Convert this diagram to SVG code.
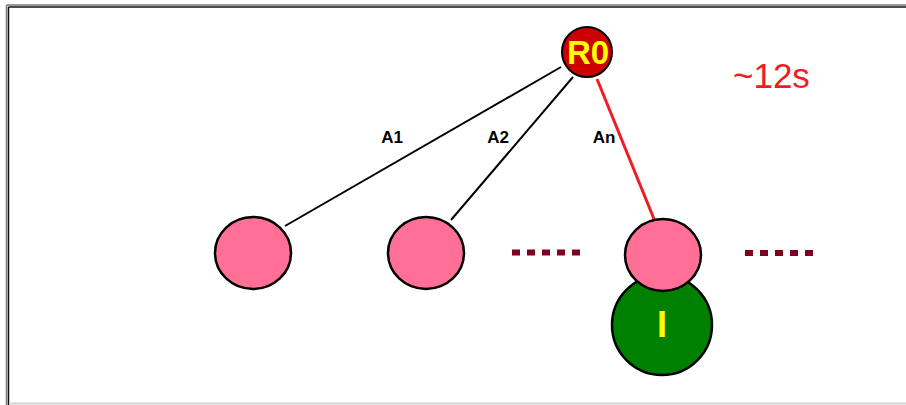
<svg xmlns="http://www.w3.org/2000/svg" width="906" height="405" viewBox="0 0 906 405">
<style>
.lbl{font-family:"Liberation Sans",Arial,sans-serif;font-weight:bold;font-size:17px;fill:#000}
.pink{fill:#FF6F96;stroke:#000;stroke-width:2.5}
.dash{stroke:#800020;stroke-width:6;stroke-dasharray:8 7}
</style>
<rect width="906" height="405" fill="#fff"/>
<g id="frame">
<line x1="6.5" y1="5" x2="906" y2="5" stroke="#777" stroke-width="1.5"/>
<line x1="8.5" y1="7" x2="906" y2="7" stroke="#111" stroke-width="1.5"/>
<line x1="6.5" y1="5" x2="6.5" y2="405" stroke="#777" stroke-width="1.5"/>
<line x1="8.5" y1="7" x2="8.5" y2="405" stroke="#111" stroke-width="1.5"/>
<line x1="9" y1="403.5" x2="906" y2="403.5" stroke="#d4d4d4" stroke-width="2"/>
</g>
<g id="connectors">
<line x1="561" y1="67" x2="285" y2="226" stroke="#000" stroke-width="2"/>
<line x1="573" y1="77" x2="451" y2="220" stroke="#000" stroke-width="2"/>
<line x1="597" y1="79" x2="654" y2="219" stroke="#EE1C24" stroke-width="3"/>
<text class="lbl" x="392" y="143" text-anchor="middle">A1</text>
<text class="lbl" x="498" y="143" text-anchor="middle">A2</text>
<text class="lbl" x="604" y="143" text-anchor="middle">An</text>
</g>
<g id="R0">
<circle cx="587" cy="52" r="25" fill="#CC0000" stroke="#000" stroke-width="2"/>
<text x="588" y="64" text-anchor="middle" font-family="'Liberation Sans',Arial,sans-serif" font-weight="bold" font-size="33" fill="#FFFF00">R0</text>
</g>
<g id="time">
<text x="733" y="88" font-family="'Liberation Sans',Arial,sans-serif" font-size="35" fill="#EE1C24">~12s</text>
</g>
<g id="A1node"><ellipse class="pink" cx="253" cy="253" rx="38" ry="36"/></g>
<g id="A2node"><ellipse class="pink" cx="426" cy="253" rx="38" ry="36"/></g>
<g id="dots1"><line class="dash" x1="512" y1="252.5" x2="586" y2="252.5"/></g>
<g id="I">
<ellipse cx="662" cy="325" rx="50" ry="50" fill="#008000" stroke="#000" stroke-width="2.5"/>
<text x="662" y="337" text-anchor="middle" font-family="'Liberation Sans',Arial,sans-serif" font-weight="bold" font-size="36" fill="#FFFF00">I</text>
</g>
<g id="Annode"><ellipse class="pink" cx="663" cy="255" rx="38" ry="36"/></g>
<g id="dots2"><line class="dash" x1="745" y1="253" x2="819" y2="253"/></g>
</svg>
